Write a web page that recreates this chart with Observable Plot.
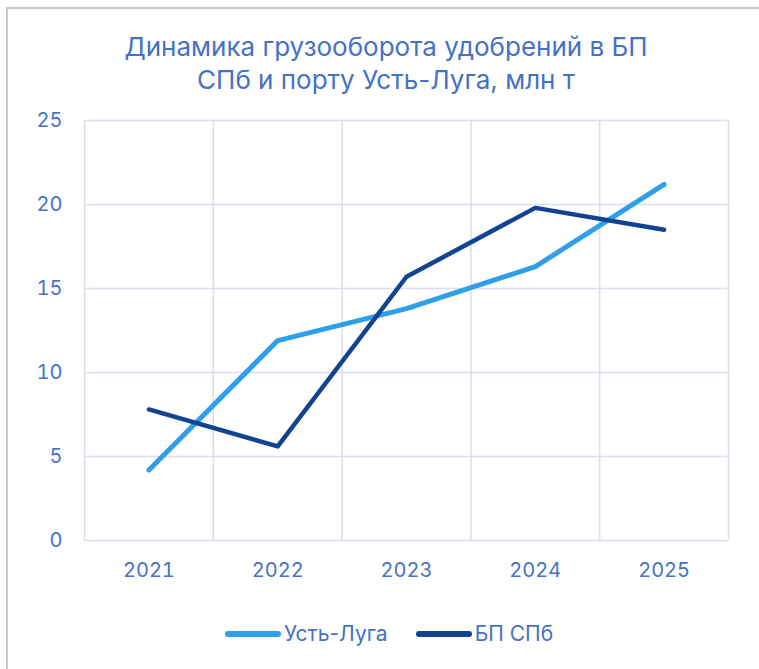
<!DOCTYPE html>
<html>
<head>
<meta charset="utf-8">
<script src="https://cdn.jsdelivr.net/npm/d3@7"></script>
<script src="https://cdn.jsdelivr.net/npm/@observablehq/plot@0.6"></script>
<style>
  html, body { margin: 0; padding: 0; background: #fff; }
  #wrap { position: relative; width: 759px; height: 669px; overflow: hidden; background: #fff; font-family: Inter, Roboto, sans-serif; }
  #frame { position: absolute; left: 6px; top: 7px; width: 800px; height: 700px; border-left: 2px solid #c8c8c8; border-top: 2px solid #c8c8c8; }
  #title { position: absolute; left: 0; top: 30px; width: 772px; text-align: center; font-size: 26px; line-height: 33px; color: #4472c4; }
  #chart { position: absolute; left: 0; top: 100px; }
  #legend { position: absolute; left: 225px; top: 621px; display: flex; align-items: center; font-size: 21px; color: #4472c4; }
  .sw { width: 56px; height: 6px; border-radius: 3px; margin-right: 3px; }
  .item { display: flex; align-items: center; margin-right: 28px; }
</style>
</head>
<body>
<div id="wrap">
  <div id="frame"></div>
  <div id="title">Динамика грузооборота удобрений в БП<br>СПб и порту Усть-Луга, млн т</div>
  <div id="chart"></div>
  <div id="legend"></div>
</div>
<script>
const years = [2021, 2022, 2023, 2024, 2025];
const ustLuga = [4.2, 11.9, 13.8, 16.3, 21.2];
const bpSpb = [7.8, 5.6, 15.7, 19.8, 18.5];
const yTicks = [0, 5, 10, 15, 20, 25];
const seriesNames = ["Усть-Луга", "БП СПб"];
const seriesColors = ["#2f9fe9", "#124391"];
const seriesWidths = [5, 4.5];

const seriesValues = [ustLuga, bpSpb];
const rows = seriesNames.flatMap((name, i) =>
  years.map((year, j) => ({ series: name, year, value: seriesValues[i][j] }))
);
const bounds = [...years.map(y => y - 0.5), years[years.length - 1] + 0.5];

const grid = "#d9dff1";
const textColor = "#4472c4";

const chart = Plot.plot({
  width: 759,
  height: 500,
  marginLeft: 84,
  marginRight: 31,
  marginTop: 20,
  marginBottom: 60,
  style: { fontFamily: "Inter, Roboto, sans-serif", fontSize: "20px", color: textColor, background: "transparent" },
  x: { domain: [bounds[0], bounds[bounds.length - 1]], ticks: years, tickFormat: d => String(d), tickSize: 0, tickPadding: 22, label: null },
  y: { domain: [0, 25], ticks: yTicks, tickSize: 0, tickPadding: 22, label: null },
  marks: [
    Plot.ruleY(yTicks, { stroke: grid, strokeWidth: 1.5 }),
    Plot.ruleX(bounds, { stroke: grid, strokeWidth: 1.5 }),
    ...seriesNames.map((name, i) =>
      Plot.line(rows.filter(r => r.series === name), {
        x: "year", y: "value",
        stroke: seriesColors[i], strokeWidth: seriesWidths[i],
        strokeLinecap: "round", strokeLinejoin: "round"
      })
    ),
    Plot.axisX({ ticks: years, tickFormat: d => String(d), tickSize: 0, tickPadding: 22, fill: textColor, label: null }),
    Plot.axisY({ ticks: yTicks, tickSize: 0, tickPadding: 22, fill: textColor, label: null })
  ]
});
document.getElementById("chart").appendChild(chart);

const legend = document.getElementById("legend");
seriesNames.forEach((name, i) => {
  const item = document.createElement("div");
  item.className = "item";
  const sw = document.createElement("div");
  sw.className = "sw";
  sw.style.background = seriesColors[i];
  const lab = document.createElement("span");
  lab.textContent = name;
  item.appendChild(sw);
  item.appendChild(lab);
  legend.appendChild(item);
});
</script>
</body>
</html>
